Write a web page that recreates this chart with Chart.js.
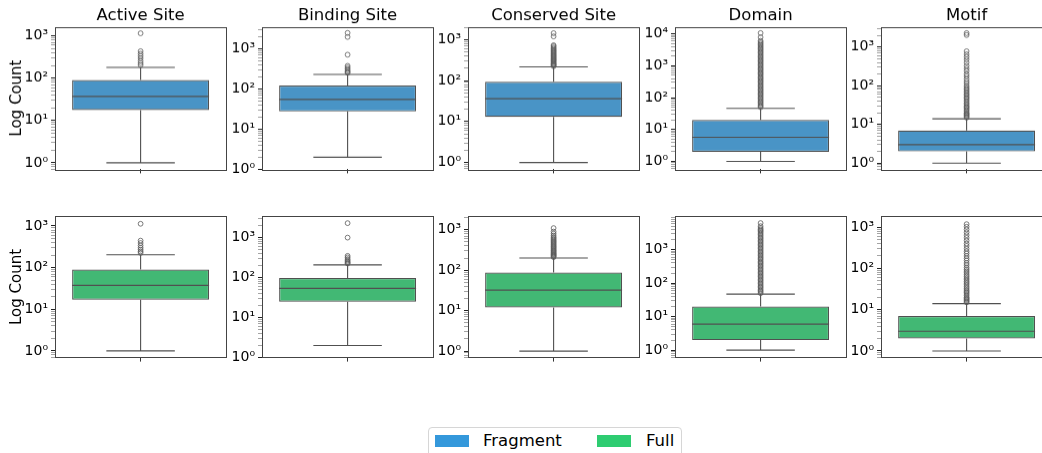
<!DOCTYPE html>
<html>
<head>
<meta charset="utf-8">
<script src="https://cdn.jsdelivr.net/npm/chart.js@4.4.0/dist/chart.umd.min.js"></script>
<style>
  body { margin: 0; width: 1042px; height: 453px; overflow: hidden; background: #fff; position: relative; font-family: "DejaVu Sans", sans-serif; }
  .panel { position: absolute; }
  #legend { position: absolute; left: 428px; top: 427px; width: 252px; height: 40px; border: 1px solid #d6d6d6; border-radius: 4px; background: #fff; }
  #legend .patch { position: absolute; top: 7px; width: 34px; height: 12px; }
  #legend .label { position: absolute; top: 1px; font-size: 16.5px; line-height: 24px; color: #000; }
</style>
</head>
<body>
<div id="legend"></div>
<script>
// categories and series
const categories = ["Active Site", "Binding Site", "Conserved Site", "Domain", "Motif"];
const seriesNames = ["Fragment", "Full"];

// box stats (whisker low, q1, median, q3, whisker high)
const fragmentLow = [1, 2, 1, 1, 1];
const fragmentQ1 = [17.6, 27.5, 13, 2, 2];
const fragmentMedian = [37, 55, 36, 5.7, 3];
const fragmentQ3 = [91, 121, 94, 20, 7];
const fragmentHigh = [180, 230, 216, 46, 14];

const fullLow = [1, 2, 1, 1, 1];
const fullQ1 = [17, 25, 12, 2, 2];
const fullMedian = [37.5, 54, 32, 6, 3];
const fullQ3 = [90, 98, 88, 20, 7];
const fullHigh = [204, 208, 200, 47, 14];

// outliers (fliers) per category
const fragmentOutliers = [
  [1150, 434, 378, 333, 294, 255, 226, 203],
  [2470, 1960, 710, 375, 340, 310, 285, 265, 250],
  [225, 235, 245, 255, 265, 280, 295, 310, 325, 340, 360, 380, 400, 420, 445, 470, 500, 530, 560, 600, 640, 690, 730, 1200, 1440],
  [50, 55, 60, 66, 73, 80, 88, 97, 107, 118, 130, 143, 157, 173, 190, 210, 230, 255, 280, 310, 340, 375, 410, 450,
   500, 550, 600, 660, 730, 800, 880, 970, 1070, 1180, 1300, 1430, 1570, 1730, 1900, 2100, 2300, 2550, 2800, 3100,
   3400, 3750, 4100, 4500, 5000, 5500, 6100, 7900, 10700],
  [15, 16, 17, 18, 19, 20, 22, 24, 26, 28, 30, 33, 36, 40, 44, 48, 52, 57, 62, 68, 75, 82, 90, 100, 115, 130, 150,
   175, 200, 240, 280, 330, 400, 480, 560, 650, 780, 2050, 2300]
];
const fullOutliers = [
  [1130, 445, 390, 340, 300, 270, 245, 225],
  [2300, 1000, 350, 320, 290, 270, 250, 235, 225],
  [210, 220, 230, 240, 250, 262, 275, 290, 305, 320, 340, 360, 380, 400, 425, 450, 480, 510, 540, 580, 620, 660,
   720, 800, 900, 1100],
  [50, 55, 60, 66, 73, 80, 88, 97, 107, 118, 130, 143, 157, 173, 190, 210, 230, 255, 280, 310, 340, 375, 410, 450,
   500, 550, 600, 660, 730, 800, 880, 970, 1070, 1180, 1300, 1430, 1570, 1730, 1900, 2100, 2300, 2550, 2800, 3100,
   3400, 3700, 4000, 4400, 5000, 6200],
  [15, 16, 17, 18, 19, 20, 22, 24, 26, 28, 30, 33, 36, 40, 44, 48, 53, 58, 64, 70, 78, 86, 95, 105, 120, 135, 155,
   175, 200, 230, 260, 300, 350, 400, 470, 550, 640, 750, 880, 1020, 1180]
];

// y axis limits per panel
const fragmentYMin = [0.72, 1, 0.68, 0.56, 0.69];
const fragmentYMax = [1620, 3470, 2040, 16600, 3310];
const fullYMin = [0.69, 1, 0.69, 0.63, 0.69];
const fullYMax = [1700, 3390, 2140, 9800, 1820];

// styles and layout
const legendColors = ["#3498db", "#2ecc71"];
const boxColors = ["#4994c6", "#42b874"];
const lineColor = "#505050";
const frameLeft = [55, 262, 468, 675, 881];
const frameWidth = 173;

Chart.defaults.font.family = "'DejaVu Sans', sans-serif";
Chart.defaults.color = "#000";
Chart.defaults.animation = false;

const sup = { "0": "\u2070", "1": "\u00b9", "2": "\u00b2", "3": "\u00b3", "4": "\u2074", "5": "\u2075" };

const boxWhiskerPlugin = {
  id: "boxWhisker",
  beforeDatasetsDraw(chart, args, opts) {
    const bar = chart.getDatasetMeta(0).data[0];
    const y = chart.scales.y;
    const ctx = chart.ctx;
    const cap = bar.width / 4;
    const yLo = y.getPixelForValue(opts.low);
    const yHi = y.getPixelForValue(opts.high);
    const yQ1 = y.getPixelForValue(opts.q1);
    const yQ3 = y.getPixelForValue(opts.q3);
    ctx.save();
    ctx.strokeStyle = lineColor;
    ctx.lineWidth = 1.1;
    ctx.beginPath();
    ctx.moveTo(bar.x, yLo); ctx.lineTo(bar.x, yQ1);
    ctx.moveTo(bar.x, yQ3); ctx.lineTo(bar.x, yHi);
    ctx.moveTo(bar.x - cap, yLo); ctx.lineTo(bar.x + cap, yLo);
    ctx.moveTo(bar.x - cap, yHi); ctx.lineTo(bar.x + cap, yHi);
    ctx.stroke();
    ctx.restore();
  },
  afterDatasetsDraw(chart, args, opts) {
    const bar = chart.getDatasetMeta(0).data[0];
    const y = chart.scales.y;
    const ctx = chart.ctx;
    const yMed = y.getPixelForValue(opts.median);
    ctx.save();
    ctx.strokeStyle = lineColor;
    ctx.lineWidth = 1.2;
    ctx.beginPath();
    ctx.moveTo(bar.x - bar.width / 2, yMed);
    ctx.lineTo(bar.x + bar.width / 2, yMed);
    ctx.stroke();
    const a = chart.chartArea;
    ctx.strokeStyle = "#444";
    ctx.lineWidth = 1;
    ctx.strokeRect(Math.round(a.left) + 0.5, Math.round(a.top) + 0.5, Math.round(a.right - a.left), Math.round(a.bottom - a.top));
    ctx.restore();
  }
};

function logTicks(scale) {
  const ticks = [];
  for (let e = -1; e <= 5; e++) {
    for (let m = 1; m <= 9; m++) {
      const v = m * Math.pow(10, e);
      if (v >= scale.min && v <= scale.max) ticks.push({ value: v, major: m === 1 });
    }
  }
  scale.ticks = ticks;
}

function makePanel(row, col) {
  const isTop = row === 0;
  const low = isTop ? fragmentLow : fullLow;
  const q1 = isTop ? fragmentQ1 : fullQ1;
  const med = isTop ? fragmentMedian : fullMedian;
  const q3 = isTop ? fragmentQ3 : fullQ3;
  const high = isTop ? fragmentHigh : fullHigh;
  const outliers = isTop ? fragmentOutliers : fullOutliers;
  const yMin = isTop ? fragmentYMin : fullYMin;
  const yMax = isTop ? fragmentYMax : fullYMax;

  const yW = col === 0 ? 55 : 40;
  const padTop = isTop ? 6 : 10;
  const titleH = isTop ? 16.5 * 1.2 + 1 : 0;
  const areaH = isTop ? 145 : 146;
  const div = document.createElement("div");
  div.className = "panel";
  div.style.left = (frameLeft[col] - yW) + "px";
  div.style.top = (isTop ? 0 : 205) + "px";
  const w = yW + frameWidth + 3;
  const h = padTop + titleH + areaH + 8;
  div.style.width = w + "px";
  div.style.height = h + "px";
  const canvas = document.createElement("canvas");
  div.appendChild(canvas);
  document.body.appendChild(div);

  new Chart(canvas, {
    type: "bar",
    data: {
      labels: [categories[col]],
      datasets: [
        {
          type: "bar",
          label: seriesNames[row],
          data: [[q1[col], q3[col]]],
          backgroundColor: boxColors[row],
          borderColor: lineColor,
          borderWidth: 1.2,
          borderSkipped: false,
          barPercentage: 0.8,
          categoryPercentage: 1,
          order: 2
        },
        {
          type: "scatter",
          label: seriesNames[row] + " outliers",
          data: outliers[col].map(v => ({ x: 0, y: v })),
          pointRadius: 2.4,
          pointBorderWidth: 0.8,
          pointBackgroundColor: "rgba(0,0,0,0)",
          pointBorderColor: "#5a5a5a",
          order: 1
        }
      ]
    },
    options: {
      responsive: true,
      maintainAspectRatio: false,
      layout: { padding: { top: padTop, right: 3, bottom: 0, left: 0 } },
      plugins: {
        legend: { display: false },
        tooltip: { enabled: false },
        title: {
          display: isTop,
          text: categories[col],
          fullSize: false,
          font: { size: 16.5, weight: "normal" },
          color: "#000",
          padding: { top: 0, bottom: 1 }
        },
        boxWhisker: { low: low[col], q1: q1[col], median: med[col], q3: q3[col], high: high[col] }
      },
      scales: {
        x: {
          type: "category",
          offset: true,
          border: { display: false },
          grid: { offset: false, drawOnChartArea: false, drawTicks: true, tickLength: 4, color: "#333" },
          ticks: { display: false },
          afterFit: s => { s.height = 8; }
        },
        y: {
          type: "logarithmic",
          min: yMin[col],
          max: yMax[col],
          border: { display: false },
          afterBuildTicks: logTicks,
          afterFit: s => { s.width = yW; },
          title: {
            display: col === 0,
            text: "Log Count",
            font: { size: 15 },
            color: "#000",
            padding: { top: 8, bottom: 0 }
          },
          grid: {
            drawOnChartArea: false,
            drawTicks: true,
            tickLength: 4,
            tickColor: c => (c.tick && c.tick.major ? "#222" : "#666"),
            tickWidth: c => (c.tick && c.tick.major ? 1 : 0.6)
          },
          ticks: {
            autoSkip: false,
            padding: 3,
            font: { size: 14 },
            color: "#000",
            callback: v => {
              const e = Math.round(Math.log10(v));
              if (Math.abs(Math.pow(10, e) - v) > 1e-9 * v) return "";
              return "10" + String(e).split("").map(d => sup[d]).join("");
            }
          }
        }
      }
    },
    plugins: [boxWhiskerPlugin]
  });
}

for (let r = 0; r < 2; r++) {
  for (let c = 0; c < categories.length; c++) makePanel(r, c);
}

// legend
const legend = document.getElementById("legend");
const patchLeft = [6, 168];
const labelLeft = [54, 217];
seriesNames.forEach((name, i) => {
  const p = document.createElement("span");
  p.className = "patch";
  p.style.left = patchLeft[i] + "px";
  p.style.background = legendColors[i];
  legend.appendChild(p);
  const t = document.createElement("span");
  t.className = "label";
  t.style.left = labelLeft[i] + "px";
  t.textContent = name;
  legend.appendChild(t);
});
</script>
</body>
</html>
